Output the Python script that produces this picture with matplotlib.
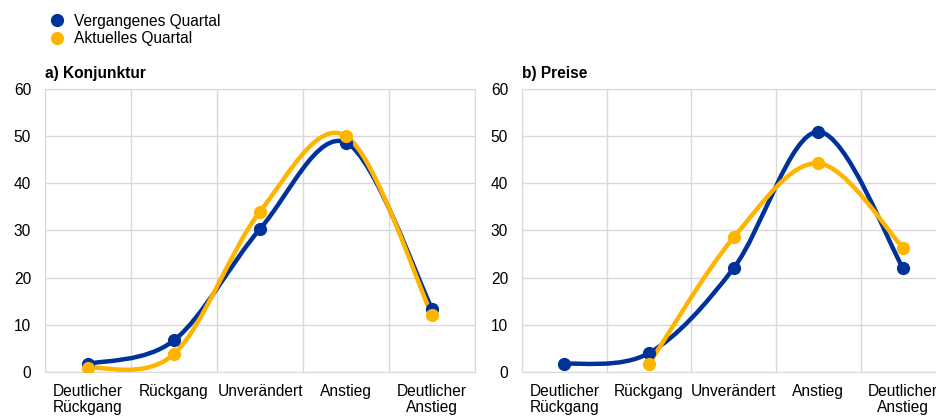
import numpy as np
import matplotlib.pyplot as plt
from matplotlib.path import Path
from matplotlib.patches import PathPatch
from matplotlib.lines import Line2D

plt.rcParams['font.family'] = ['Liberation Sans', 'DejaVu Sans']

categories = ['Deutlicher\nRückgang', 'Rückgang', 'Unverändert', 'Anstieg', 'Deutlicher\nAnstieg']
series_names = ['Vergangenes Quartal', 'Aktuelles Quartal']

konj_past = [1.7, 6.7, 30.3, 48.6, 13.4]
konj_now = [0.9, 3.8, 34.0, 50.0, 12.0]
preise_past = [1.7, 4.0, 22.0, 50.9, 22.0]
preise_now = [np.nan, 1.7, 28.5, 44.2, 26.3]

titles = ['a) Konjunktur', 'b) Preise']
blue = '#003299'
yellow = '#ffb400'
grid_col = '#d9d9d9'
fs = 11.2


def smooth_path(x, y):
    # Excel-like smoothed line: cubic bezier with catmull-rom control points
    x = np.asarray(x, float)
    y = np.asarray(y, float)
    ok = ~np.isnan(y)
    x, y = x[ok], y[ok]
    verts = [(x[0], y[0])]
    codes = [Path.MOVETO]
    n = len(x)
    for i in range(n - 1):
        x0, y0 = (x[i - 1], y[i - 1]) if i > 0 else (x[i], y[i])
        x3, y3 = (x[i + 2], y[i + 2]) if i + 2 < n else (x[i + 1], y[i + 1])
        c1 = (x[i] + (x[i + 1] - x0) / 6, y[i] + (y[i + 1] - y0) / 6)
        c2 = (x[i + 1] - (x3 - x[i]) / 6, y[i + 1] - (y3 - y[i]) / 6)
        verts += [c1, c2, (x[i + 1], y[i + 1])]
        codes += [Path.CURVE4] * 3
    return Path(verts, codes), x, y


fig = plt.figure(figsize=(9.37, 4.17), dpi=100)
ax1 = fig.add_axes([0.048, 0.108, 0.459, 0.679])
ax2 = fig.add_axes([0.557, 0.108, 0.452, 0.679])

data = [(konj_past, konj_now), (preise_past, preise_now)]
xpos = np.arange(len(categories))

for ax, (past, now), title in zip([ax1, ax2], data, titles):
    for vals, col in [(past, blue), (now, yellow)]:
        path, xs, ys = smooth_path(xpos, vals)
        ax.add_patch(PathPatch(path, facecolor='none', edgecolor=col, lw=3.2,
                               capstyle='round', joinstyle='round', zorder=3))
        ax.plot(xs, ys, 'o', color=col, ms=8.5, zorder=4)
    ax.set_xlim(-0.5, 4.5)
    ax.set_ylim(0, 60)
    ax.set_yticks(range(0, 61, 10))
    ax.set_xticks(xpos)
    ax.set_xticklabels(categories, linespacing=1.05)
    ax.set_xticks(np.arange(-0.5, 4.6, 1), minor=True)
    ax.tick_params(axis='x', which='both', length=0, labelsize=fs, pad=9)
    ax.tick_params(axis='y', length=0, labelsize=fs, pad=10)
    ax.grid(True, which='minor', axis='x', color=grid_col, lw=1)
    ax.grid(True, which='major', axis='y', color=grid_col, lw=1)
    for s in ax.spines.values():
        s.set_color(grid_col)
    ax.set_axisbelow(True)
    ax.set_title(title, loc='left', fontsize=fs, fontweight='bold', pad=8)

handles = [Line2D([], [], marker='o', ls='none', color=blue, ms=8.5),
           Line2D([], [], marker='o', ls='none', color=yellow, ms=8.5)]
fig.legend(handles, series_names, loc='upper left', bbox_to_anchor=(0.043, 0.99),
           frameon=False, fontsize=fs, handletextpad=0.55, labelspacing=0.18,
           handlelength=1.0, borderaxespad=0.2)

fig.savefig('out.png', dpi=100)
